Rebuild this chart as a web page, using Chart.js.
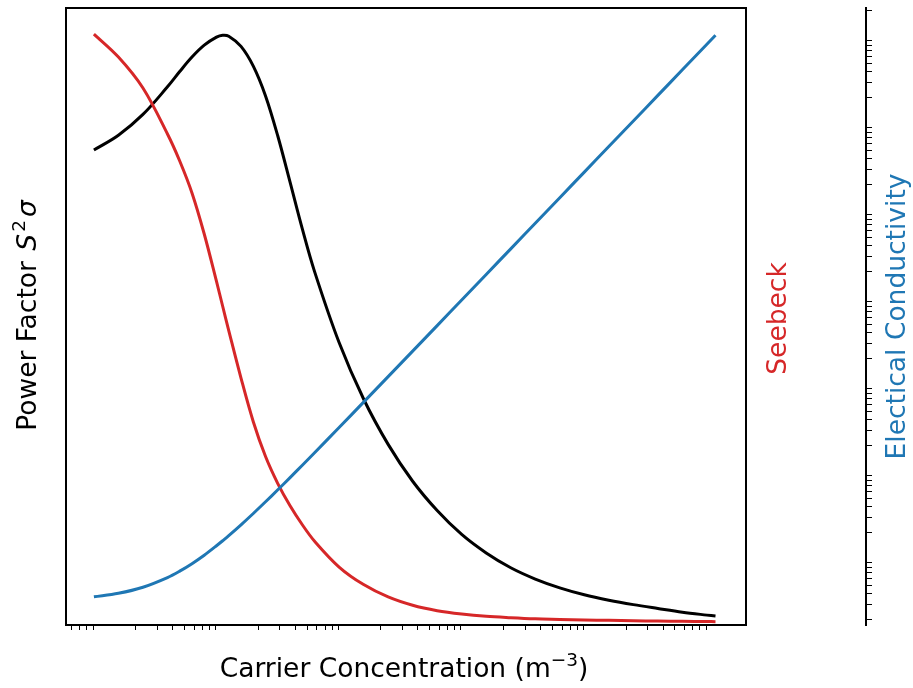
<!DOCTYPE html>
<html>
<head>
<meta charset="utf-8">
<script src="https://cdn.jsdelivr.net/npm/chart.js@4.4.1/dist/chart.umd.min.js"></script>
<style>
  html, body { margin: 0; padding: 0; background: #fff; }
  #wrap { width: 913px; height: 688px; }
</style>
</head>
<body>
<div id="wrap"><canvas id="chart" width="913" height="688"></canvas></div>
<script>
// Carrier concentration (m^-3)
const concentration = [
  9.12e18, 1.445e19, 2.291e19, 3.631e19, 4.571e19, 5.754e19, 7.244e19, 9.12e19,
  1.023e20, 1.148e20, 1.445e20, 1.820e20, 2.291e20, 2.884e20, 3.631e20, 4.571e20,
  5.754e20, 9.12e20, 1.445e21, 2.291e21, 3.631e21, 5.754e21, 9.12e21, 1.445e22,
  2.291e22, 3.631e22, 5.754e22, 9.12e22, 1.445e23, 2.291e23, 3.631e23, 5.754e23,
  9.12e23, 1.072e24
];

// Seebeck coefficient (uV/K)
const seebeck = [
  383.1, 368.2, 348.1, 318.3, 300.8, 280.1, 253.5, 222.7,
  206.8, 190.9, 160.1, 131.8, 109.2, 91.7, 77.3, 65.0,
  54.3, 37.6, 26.2, 18.2, 12.8, 9.3, 7.1, 5.6,
  4.7, 4.0, 3.6, 3.2, 3.0, 2.76, 2.56, 2.40,
  2.24, 2.17
];

// Power factor S^2 sigma (uW cm^-1 K^-2)
const powerFactor = [
  30.79, 31.75, 33.10, 34.89, 35.88, 36.82, 37.59, 38.11,
  38.23, 38.17, 37.51, 36.23, 34.30, 31.70, 28.71, 25.68,
  22.91, 18.31, 14.65, 11.71, 9.32, 7.42, 5.87, 4.67,
  3.71, 2.98, 2.41, 1.96, 1.61, 1.32, 1.07, 0.83,
  0.64, 0.58
];

// Electrical conductivity (S/m)
const conductivity = [
  0.367, 0.403, 0.473, 0.611, 0.724, 0.883, 1.105, 1.418,
  1.619, 1.856, 2.471, 3.334, 4.543, 6.24, 8.62, 11.96,
  16.65, 32.4, 63.5, 124.6, 245, 481.5, 947.6, 1865,
  3669, 7222, 14210, 27970, 55040, 108300, 213100, 419400,
  825400, 1045800
];

const xTitle = 'Carrier Concentration (m';
const xTitleSup = '\u22123';
const pfTitle = 'Power Factor ';
const seebeckTitle = 'Seebeck';
const sigmaTitle = 'Electical Conductivity';

const RED = '#d62728';
const BLUE = '#1f77b4';
const BLACK = '#000000';
const FONT = '"DejaVu Sans", "Liberation Sans", sans-serif';

function pairs(ys) {
  return concentration.map((x, i) => ({ x: x, y: ys[i] }));
}

// Log-scale minor ticks only (2..9 x 10^k), no decade ticks
function minorLogTicks(axis) {
  const out = [];
  const lo = Math.floor(Math.log10(axis.min));
  const hi = Math.ceil(Math.log10(axis.max));
  for (let e = lo; e <= hi; e++) {
    for (let m = 2; m <= 9; m++) {
      const v = m * Math.pow(10, e);
      if (v >= axis.min && v <= axis.max) out.push({ value: v });
    }
  }
  axis.ticks = out;
}

// Draws a run of text pieces (with optional superscripts) centred on the origin
function drawRich(ctx, pieces, cx, baseline, rotation, color) {
  ctx.save();
  ctx.translate(cx, baseline);
  ctx.rotate(rotation);
  let total = 0;
  pieces.forEach(p => { ctx.font = p.font; total += ctx.measureText(p.text).width + (p.gap || 0); });
  let x = -total / 2;
  ctx.fillStyle = color;
  ctx.textBaseline = 'alphabetic';
  ctx.textAlign = 'left';
  pieces.forEach(p => {
    ctx.font = p.font;
    ctx.fillText(p.text, x, p.dy || 0);
    x += ctx.measureText(p.text).width + (p.gap || 0);
  });
  ctx.restore();
}

const titlesPlugin = {
  id: 'axisTitles',
  afterDraw(chart) {
    const ctx = chart.ctx;
    const a = chart.chartArea;
    const midX = (a.left + a.right) / 2;
    const midY = (a.top + a.bottom) / 2;
    const f = '26.5px ' + FONT;
    const fi = 'italic 26.5px ' + FONT;
    const fs = '18.5px ' + FONT;

    drawRich(ctx, [
      { text: xTitle, font: f },
      { text: xTitleSup, font: fs, dy: -11 },
      { text: ')', font: f }
    ], midX - 2, 677, 0, BLACK);

    drawRich(ctx, [
      { text: pfTitle, font: f, gap: 2 },
      { text: 'S', font: fi, gap: 2 },
      { text: '2', font: fs, dy: -11, gap: 3 },
      { text: '\u03c3', font: fi, gap: 2 }
    ], 36, midY - 2, -Math.PI / 2, BLACK);

    drawRich(ctx, [{ text: seebeckTitle, font: f }], 786, midY + 2, -Math.PI / 2, RED);

    drawRich(ctx, [{ text: sigmaTitle, font: f }], 905, midY, -Math.PI / 2, BLUE);
  }
};

const frameBorder = { display: true, color: BLACK, width: 2 };
const lineStyle = { borderWidth: 3, pointRadius: 0, tension: 0.35, fill: false };

new Chart(document.getElementById('chart'), {
  type: 'line',
  data: {
    datasets: [
      Object.assign({ label: 'Conductivity', data: pairs(conductivity), yAxisID: 'ySigma', borderColor: BLUE, order: 0 }, lineStyle),
      Object.assign({ label: 'Seebeck', data: pairs(seebeck), yAxisID: 'ySeebeck', borderColor: RED, order: 1 }, lineStyle),
      Object.assign({ label: 'Power factor', data: pairs(powerFactor), yAxisID: 'y', borderColor: BLACK, order: 2 }, lineStyle)
    ]
  },
  options: {
    responsive: false,
    devicePixelRatio: 1,
    animation: false,
    events: [],
    layout: { padding: { top: 8, left: 0, right: 0, bottom: 0 } },
    plugins: { legend: { display: false }, tooltip: { enabled: false } },
    scales: {
      x: {
        type: 'logarithmic',
        position: 'bottom',
        min: 5.40e18,
        max: 1.901e24,
        afterBuildTicks: minorLogTicks,
        afterFit: s => { s.height = 63; },
        ticks: { display: false },
        grid: { display: true, drawOnChartArea: false, drawTicks: true, tickLength: 5, color: BLACK, lineWidth: 1 },
        border: frameBorder
      },
      xTop: {
        type: 'linear',
        position: 'top',
        min: 0, max: 1,
        afterFit: s => { s.height = 0; },
        ticks: { display: false },
        grid: { display: false, drawTicks: false },
        border: frameBorder
      },
      y: {
        type: 'linear',
        position: 'left',
        min: 0, max: 40,
        afterFit: s => { s.width = 66; },
        ticks: { display: false },
        grid: { display: false, drawTicks: false },
        border: frameBorder
      },
      ySeebeck: {
        type: 'linear',
        position: 'right',
        min: 0, max: 400,
        afterFit: s => { s.width = 120; },
        ticks: { display: false },
        grid: { display: false, drawTicks: false },
        border: frameBorder
      },
      ySigma: {
        type: 'logarithmic',
        position: 'right',
        min: 0.1742,
        max: 2.153e6,
        afterBuildTicks: minorLogTicks,
        afterFit: s => { s.width = 47; },
        ticks: { display: false },
        grid: { display: true, drawOnChartArea: false, drawTicks: true, tickLength: 6, color: BLACK, lineWidth: 1 },
        border: frameBorder
      }
    }
  },
  plugins: [titlesPlugin]
});
</script>
</body>
</html>
